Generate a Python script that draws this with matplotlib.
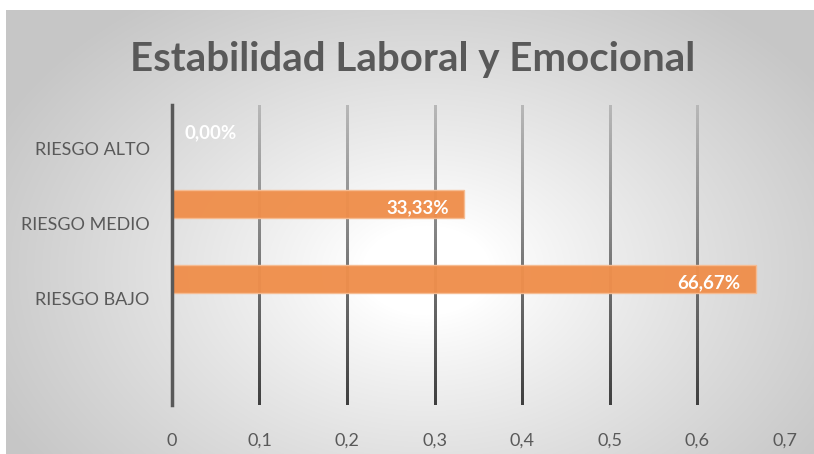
import matplotlib.pyplot as plt
import numpy as np

categories = ["RIESGO ALTO", "RIESGO MEDIO", "RIESGO BAJO", ""]
values = [0.0, 0.3333, 0.6667, None]
value_labels = ["0,00%", "33,33%", "66,67%", ""]
xticks = [0, 0.1, 0.2, 0.3, 0.4, 0.5, 0.6, 0.7]
xtick_labels = ["0", "0,1", "0,2", "0,3", "0,4", "0,5", "0,6", "0,7"]

W, H = 814, 454
fig = plt.figure(figsize=(W / 100, H / 100), dpi=100)
fig.patch.set_facecolor("white")

# radial gray gradient background (chart area starts 6px left, 10px top)
bg = fig.add_axes([6 / W, 0, 1 - 6 / W, 1 - 10 / H])
yy, xx = np.mgrid[0:444, 0:808]
cx, cy = 420, 260
d = np.sqrt(((xx - cx) / 430.0) ** 2 + ((yy - cy) / 300.0) ** 2)
t = np.clip((d - 0.15) / 0.95, 0, 1) ** 0.9
shade = 1.0 - t * (1.0 - 0.78)
bg.imshow(np.dstack([shade] * 3), aspect="auto", extent=[0, 1, 0, 1], origin="upper")
bg.axis("off")

ax = fig.add_axes([172 / W, 1 - 405 / H, (785 - 172) / W, 300 / H])
ax.set_facecolor("none")
n = len(categories)
ypos = np.arange(n)

# gridlines with vertical gradient (light at top, dark at bottom)
px = 0.7 / (785 - 172)
grad = np.linspace(0.72, 0.25, 100)[:, None]
grad = np.dstack([grad] * 3)
for xv in xticks[1:-1]:
    ax.imshow(grad, aspect="auto", extent=[xv - 1.1 * px, xv + 1.1 * px, n - 0.5, -0.5],
              interpolation="bilinear", zorder=1)

offset = -0.18
for i, v in enumerate(values):
    if v is None:
        continue
    ax.barh(ypos[i] + offset, v, height=0.37, color="#EF8F4C",
            edgecolor="#F6BC92", linewidth=1.0, alpha=0.97, zorder=2)
    if v > 0:
        ax.annotate(value_labels[i], xy=(v, ypos[i] + offset + 0.05),
                    xytext=(-11, 0), textcoords="offset points", ha="right",
                    va="center", color="white", fontsize=13.5, fontweight="bold",
                    family="Lato", zorder=3)
    else:
        ax.annotate(value_labels[i], xy=(0, ypos[i] + offset + 0.05),
                    xytext=(9, 0), textcoords="offset points", ha="left",
                    va="center", color="white", fontsize=13.5, fontweight="bold",
                    family="Lato", zorder=3)

ax.set_xlim(0, 0.7)
ax.set_ylim(n - 0.5, -0.5)

for s in ["top", "right", "bottom"]:
    ax.spines[s].set_visible(False)
ax.spines["left"].set_color("#595959")
ax.spines["left"].set_linewidth(2.5)
ax.spines["left"].set_zorder(4)

ax.set_yticks(ypos + 0.08)
ax.set_yticklabels(categories, fontsize=13, color="#595959", family="Lato")
ax.set_xticks(xticks)
ax.set_xticklabels(xtick_labels, fontsize=13, color="#595959", family="Lato")
ax.tick_params(axis="both", length=0)
ax.tick_params(axis="y", pad=16)
ax.tick_params(axis="x", pad=20)

fig.text(413 / W, 1 - 60 / H, "Estabilidad Laboral y Emocional", ha="center",
         va="center", fontsize=29, fontweight="bold", color="#595959", family="Lato")

fig.savefig("out.png", dpi=100)
